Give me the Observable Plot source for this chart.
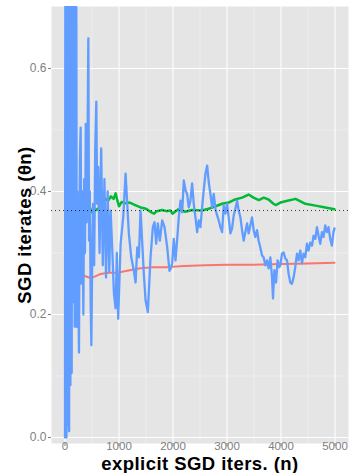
<!DOCTYPE html>
<html>
<head>
<meta charset="utf-8">
<script src="https://cdn.jsdelivr.net/npm/d3@7"></script>
<script src="https://cdn.jsdelivr.net/npm/@observablehq/plot@0.6"></script>
<style>
  html, body { margin: 0; padding: 0; background: #ffffff; }
  #chart { width: 350px; height: 473px; }
</style>
</head>
<body>
<div id="chart"></div>
<script>
// ---- data ----
const blueN = [0,6,12,20,28,36,44,52,60,68,76,84,92,100,108,116,124,132,140,150,160,170,180,192,200,210,218,228,240,259,275,290,305,320,340,355,370,385,400,415,432,445,460,475,488,505,520,540,560,580,595,615,640,670,700,730,760,790,820,845,876,906,937,960,985,1030,1080,1122,1183,1227,1275,1307,1338,1368,1399,1431,1460,1492,1534,1584,1627,1658,1689,1719,1756,1800,1843,1893,1935,1960,1985,2015,2046,2078,2107,2139,2170,2200,2231,2262,2292,2323,2354,2384,2416,2447,2477,2508,2539,2569,2601,2632,2662,2693,2724,2754,2786,2817,2847,2878,2909,2939,2971,3002,3031,3063,3094,3124,3155,3187,3216,3248,3279,3309,3340,3372,3401,3433,3464,3494,3525,3556,3586,3617,3649,3678,3710,3741,3771,3803,3834,3852,3877,3908,3937,3969,3987,4019,4048,4080,4111,4141,4172,4203,4233,4264,4296,4325,4357,4388,4418,4449,4481,4510,4542,4575,4603,4636,4666,4695,4727,4758,4787,4819,4850,4880,4911,4942,4972,4991];
const blueY = [0.00,0.76,0.01,0.78,0.00,0.74,0.02,0.77,0.04,0.72,0.01,0.75,0.12,0.085,0.73,0.15,0.105,0.74,0.30,0.71,0.22,0.60,0.18,0.72,0.28,0.70,0.18,0.40,0.30,0.138,0.45,0.504,0.25,0.40,0.20,0.42,0.30,0.51,0.35,0.45,0.649,0.32,0.40,0.22,0.15,0.30,0.38,0.28,0.47,0.546,0.38,0.44,0.30,0.47,0.28,0.42,0.26,0.40,0.27,0.369,0.304,0.234,0.21,0.30,0.193,0.315,0.36,0.429,0.331,0.293,0.271,0.252,0.309,0.293,0.369,0.315,0.266,0.223,0.204,0.293,0.342,0.350,0.315,0.348,0.320,0.353,0.342,0.309,0.271,0.275,0.283,0.323,0.288,0.323,0.358,0.385,0.366,0.418,0.402,0.396,0.374,0.385,0.413,0.380,0.358,0.334,0.353,0.342,0.374,0.402,0.429,0.442,0.415,0.396,0.374,0.396,0.372,0.361,0.353,0.342,0.334,0.377,0.364,0.380,0.358,0.332,0.340,0.361,0.372,0.385,0.369,0.358,0.337,0.320,0.334,0.348,0.332,0.345,0.358,0.337,0.326,0.337,0.320,0.309,0.296,0.293,0.280,0.288,0.275,0.293,0.260,0.226,0.272,0.252,0.288,0.277,0.280,0.299,0.301,0.291,0.288,0.266,0.252,0.250,0.260,0.277,0.299,0.288,0.304,0.283,0.299,0.293,0.315,0.304,0.317,0.312,0.328,0.323,0.342,0.328,0.315,0.334,0.326,0.345,0.334,0.342,0.323,0.312,0.334,0.340];

const greenN = [140,180,216,240,260,290,320,345,380,420,460,500,540,580,620,660,700,750,800,850,900,937,970,1000,1050,1100,1200,1300,1400,1500,1600,1650,1700,1800,1880,1950,1990,2100,2230,2350,2530,2660,2790,2910,3030,3150,3280,3400,3490,3590,3680,3770,3860,3900,3990,4080,4270,4360,4450,4640,4820,4990];
const greenY = [0.365,0.372,0.375,0.353,0.360,0.370,0.355,0.358,0.372,0.368,0.374,0.366,0.372,0.370,0.372,0.385,0.382,0.388,0.385,0.392,0.388,0.397,0.385,0.376,0.383,0.381,0.382,0.378,0.374,0.372,0.366,0.364,0.368,0.370,0.368,0.369,0.364,0.371,0.367,0.370,0.369,0.372,0.376,0.380,0.382,0.387,0.390,0.395,0.390,0.386,0.390,0.387,0.380,0.378,0.382,0.384,0.388,0.384,0.380,0.377,0.374,0.371];

const redN = [137,166,229,300,351,420,475,560,660,800,968,1150,1400,1650,1900,2200,2600,3000,3500,4000,4500,4990];
const redY = [0.250,0.251,0.261,0.263,0.263,0.261,0.259,0.262,0.266,0.268,0.268,0.271,0.275,0.277,0.277,0.279,0.280,0.281,0.281,0.282,0.283,0.284];

const refLevel = [0.369];

const xTicks = [0, 1000, 2000, 3000, 4000, 5000];
const xMinor = [500, 1500, 2500, 3500, 4500];
const yTicks = [0.0, 0.2, 0.4, 0.6];
const yMinor = [0.1, 0.3, 0.5];

const xTitle = "explicit SGD iters. (n)";
const yTitle = "SGD iterates (θn)";

// ---- build tables ----
const blue = blueN.map((n, i) => ({n, y: blueY[i]}));
const green = greenN.map((n, i) => ({n, y: greenY[i]}));
const red = redN.map((n, i) => ({n, y: redY[i]}));

const font = "'Liberation Sans', Arial, Helvetica, sans-serif";

const chart = Plot.plot({
  width: 350,
  height: 473,
  marginLeft: 51,
  marginRight: 2,
  marginTop: 6,
  marginBottom: 30,
  style: {fontFamily: font, background: "#ffffff", overflow: "visible"},
  x: {domain: [-250, 5250]},
  y: {domain: [-0.0098, 0.7008]},
  marks: [
    Plot.frame({fill: "#E5E5E5", stroke: null}),
    Plot.ruleX(xMinor, {stroke: "#F2F2F2", strokeWidth: 0.6}),
    Plot.ruleY(yMinor, {stroke: "#F2F2F2", strokeWidth: 0.6}),
    Plot.ruleX(xTicks, {stroke: "#ffffff", strokeWidth: 1.1}),
    Plot.ruleY(yTicks, {stroke: "#ffffff", strokeWidth: 1.1}),
    Plot.axisX({ticks: xTicks, tickSize: 3, tickPadding: -4.5, fontSize: 11.5, color: "#7F7F7F", tickFormat: d3.format("d"), label: null}),
    Plot.axisY({ticks: yTicks, tickSize: 3, tickPadding: 2, fontSize: 12, color: "#7F7F7F", tickFormat: d3.format(".1f"), label: null}),
    Plot.line(red, {x: "n", y: "y", stroke: "#F8766D", strokeWidth: 2, clip: true}),
    Plot.line(green, {x: "n", y: "y", stroke: "#00BA38", strokeWidth: 2.5, clip: true}),
    Plot.line(blue, {x: "n", y: "y", stroke: "#619CFF", strokeWidth: 2.3, clip: true, strokeLinejoin: "round"}),
    Plot.ruleY(refLevel, {stroke: "#000000", strokeWidth: 0.8, strokeDasharray: "1,3"}),
    Plot.text([xTitle], {frameAnchor: "bottom", dy: 26, fontSize: 18.5, fontWeight: "bold", fill: "#000000", textAnchor: "middle"}),
    Plot.text([yTitle], {frameAnchor: "left", dx: -26, rotate: -90, fontSize: 18.5, fontWeight: "bold", fill: "#000000", textAnchor: "middle"})
  ]
});
// slight letter spacing on the two axis titles (styling only)
d3.select(chart).selectAll("text")
  .filter(function() { return this.textContent === xTitle || this.textContent === yTitle; })
  .attr("letter-spacing", "0.45");
document.getElementById("chart").appendChild(chart);
</script>
</body>
</html>
